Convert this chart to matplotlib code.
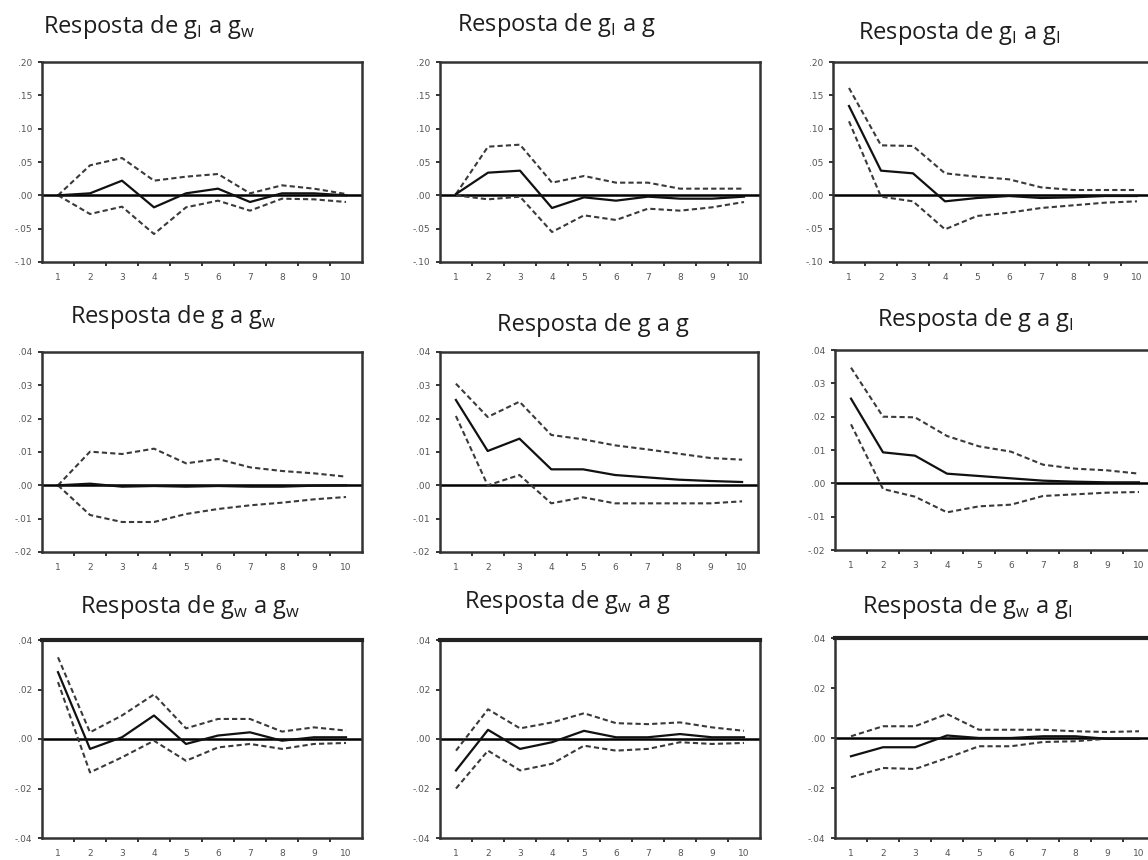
import numpy as np
import matplotlib
matplotlib.use("Agg")
import matplotlib.pyplot as plt

# ---------------- data ----------------
periods = [1, 2, 3, 4, 5, 6, 7, 8, 9, 10]

titles = [
    r"Resposta de g$_\mathregular{I}$ a g$_\mathregular{w}$",
    r"Resposta de g$_\mathregular{I}$ a g",
    r"Resposta de g$_\mathregular{I}$ a g$_\mathregular{I}$",
    r"Resposta de g a g$_\mathregular{w}$",
    r"Resposta de g a g",
    r"Resposta de g a g$_\mathregular{I}$",
    r"Resposta de g$_\mathregular{w}$ a g$_\mathregular{w}$",
    r"Resposta de g$_\mathregular{w}$ a g",
    r"Resposta de g$_\mathregular{w}$ a g$_\mathregular{I}$",
]

# Row 1: response of g_I
gI_gw_resp = [0.000, 0.003, 0.022, -0.018, 0.003, 0.010, -0.010, 0.003, 0.003, 0.000]
gI_gw_up = [0.000, 0.045, 0.056, 0.022, 0.028, 0.032, 0.003, 0.015, 0.010, 0.002]
gI_gw_lo = [0.000, -0.028, -0.017, -0.058, -0.018, -0.008, -0.023, -0.005, -0.006, -0.010]

gI_g_resp = [0.002, 0.034, 0.037, -0.019, -0.003, -0.008, -0.002, -0.005, -0.005, -0.002]
gI_g_up = [0.002, 0.073, 0.076, 0.019, 0.029, 0.019, 0.019, 0.010, 0.010, 0.010]
gI_g_lo = [0.000, -0.006, -0.002, -0.055, -0.030, -0.037, -0.020, -0.023, -0.018, -0.010]

gI_gI_resp = [0.134, 0.037, 0.033, -0.009, -0.004, -0.001, -0.004, -0.003, -0.001, -0.001]
gI_gI_up = [0.161, 0.075, 0.074, 0.033, 0.028, 0.024, 0.012, 0.008, 0.008, 0.008]
gI_gI_lo = [0.111, -0.002, -0.009, -0.051, -0.031, -0.026, -0.019, -0.015, -0.011, -0.009]

# Row 2: response of g
g_gw_resp = [0.0000, 0.0005, -0.0004, -0.0002, -0.0004, -0.0002, -0.0004, -0.0004, -0.0001, 0.0000]
g_gw_up = [0.0000, 0.0101, 0.0094, 0.0110, 0.0066, 0.0079, 0.0054, 0.0043, 0.0036, 0.0026]
g_gw_lo = [0.0000, -0.0089, -0.0110, -0.0110, -0.0086, -0.0071, -0.0060, -0.0052, -0.0042, -0.0035]

g_g_resp = [0.0256, 0.0103, 0.0140, 0.0048, 0.0048, 0.0031, 0.0024, 0.0017, 0.0013, 0.0010]
g_g_up = [0.0305, 0.0205, 0.0251, 0.0151, 0.0138, 0.0120, 0.0108, 0.0095, 0.0082, 0.0077]
g_g_lo = [0.0208, 0.0000, 0.0031, -0.0054, -0.0036, -0.0054, -0.0054, -0.0054, -0.0054, -0.0048]

g_gI_resp = [0.0254, 0.0093, 0.0083, 0.0029, 0.0022, 0.0015, 0.0008, 0.0005, 0.0003, 0.0003]
g_gI_up = [0.0347, 0.0200, 0.0198, 0.0142, 0.0111, 0.0095, 0.0056, 0.0044, 0.0039, 0.0029]
g_gI_lo = [0.0177, -0.0017, -0.0040, -0.0087, -0.0069, -0.0064, -0.0038, -0.0033, -0.0028, -0.0026]

# Row 3: response of g_w
gw_gw_resp = [0.0270, -0.0040, 0.0007, 0.0095, -0.0020, 0.0014, 0.0027, -0.0007, 0.0007, 0.0007]
gw_gw_up = [0.0330, 0.0027, 0.0095, 0.0180, 0.0043, 0.0081, 0.0081, 0.0030, 0.0047, 0.0034]
gw_gw_lo = [0.0230, -0.0135, -0.0074, -0.0007, -0.0088, -0.0034, -0.0020, -0.0040, -0.0020, -0.0016]

gw_g_resp = [-0.0127, 0.0037, -0.0040, -0.0013, 0.0033, 0.0007, 0.0007, 0.0020, 0.0007, 0.0007]
gw_g_up = [-0.0047, 0.0120, 0.0043, 0.0067, 0.0104, 0.0064, 0.0060, 0.0067, 0.0047, 0.0033]
gw_g_lo = [-0.0200, -0.0047, -0.0127, -0.0100, -0.0027, -0.0047, -0.0040, -0.0013, -0.0020, -0.0016]

gw_gI_resp = [-0.0073, -0.0037, -0.0037, 0.0010, 0.0000, 0.0000, 0.0007, 0.0007, -0.0003, -0.0003]
gw_gI_up = [0.0007, 0.0047, 0.0047, 0.0096, 0.0033, 0.0033, 0.0033, 0.0027, 0.0024, 0.0027]
gw_gI_lo = [-0.0157, -0.0120, -0.0124, -0.0080, -0.0033, -0.0033, -0.0016, -0.0013, -0.0003, -0.0003]

row1_yticks = [-0.10, -0.05, 0.00, 0.05, 0.10, 0.15, 0.20]
row1_ylabels = ["-.10", "-.05", ".00", ".05", ".10", ".15", ".20"]
row2_yticks = [-0.02, -0.01, 0.00, 0.01, 0.02, 0.03, 0.04]
row2_ylabels = ["-.02", "-.01", ".00", ".01", ".02", ".03", ".04"]
row3_yticks = [-0.04, -0.02, 0.00, 0.02, 0.04]
row3_ylabels = ["-.04", "-.02", ".00", ".02", ".04"]

responses = [gI_gw_resp, gI_g_resp, gI_gI_resp,
             g_gw_resp, g_g_resp, g_gI_resp,
             gw_gw_resp, gw_g_resp, gw_gI_resp]
uppers = [gI_gw_up, gI_g_up, gI_gI_up,
          g_gw_up, g_g_up, g_gI_up,
          gw_gw_up, gw_g_up, gw_gI_up]
lowers = [gI_gw_lo, gI_g_lo, gI_gI_lo,
          g_gw_lo, g_g_lo, g_gI_lo,
          gw_gw_lo, gw_g_lo, gw_gI_lo]

# ---------------- layout ----------------
W, H = 1148, 860
plt.rcParams['mathtext.fontset'] = 'custom'
plt.rcParams['mathtext.rm'] = 'Open Sans'
fig = plt.figure(figsize=(W / 100, H / 100), dpi=100)
fig.patch.set_facecolor('white')

# axes boxes in pixels: left, top, right, bottom
boxes = [
    (42, 62, 362, 262), (440, 62, 760, 262), (833, 62, 1153, 262),
    (42, 352, 362, 552), (440, 352, 758, 552), (835, 350, 1155, 550),
    (42, 640, 362, 838), (440, 640, 760, 838), (835, 638, 1155, 838),
]
title_pos = [
    (149, 27), (556, 25), (959, 33),
    (173, 317), (593, 325), (975, 320),
    (190, 607), (567, 602), (967, 607),
]

for i in range(9):
    l, t, r, b = boxes[i]
    ax = fig.add_axes([l / W, 1 - b / H, (r - l) / W, (b - t) / H])
    row = i // 3
    if row == 0:
        yt, yl, ylim = row1_yticks, row1_ylabels, (-0.10, 0.20)
    elif row == 1:
        yt, yl, ylim = row2_yticks, row2_ylabels, (-0.02, 0.04)
    else:
        yt, yl, ylim = row3_yticks, row3_ylabels, (-0.04, 0.04)

    ax.axhline(0, color='black', lw=1.8, zorder=2)
    ax.plot(periods, uppers[i], color='#3a3a3a', lw=1.5, ls=(0, (2.5, 1.5)), zorder=3)
    ax.plot(periods, lowers[i], color='#3a3a3a', lw=1.5, ls=(0, (2.5, 1.5)), zorder=3)
    ax.plot(periods, responses[i], color='#111111', lw=1.6, zorder=4)

    ax.set_xlim(0.5, 10.5)
    ax.set_ylim(*ylim)
    ax.set_yticks(yt)
    ax.set_yticklabels(yl)
    ax.set_xticks(periods)
    ax.set_xticklabels([str(p) for p in periods])
    ax.set_xticks(np.arange(1.5, 10.5, 1.0), minor=True)
    ax.tick_params(axis='x', which='major', length=0, pad=8,
                   labelsize=6.5, labelcolor='#555555')
    ax.tick_params(axis='x', which='minor', length=3, width=1.4,
                   color='#333333', direction='out')
    ax.tick_params(axis='y', which='major', length=3, width=1.4,
                   color='#333333', direction='out', pad=4,
                   labelsize=6.5, labelcolor='#555555')
    for s in ax.spines.values():
        s.set_color('#333333')
        s.set_linewidth(1.8)
    if row == 2:
        ax.spines['top'].set_linewidth(3.0)
        ax.spines['top'].set_color('#222222')

    tx, ty = title_pos[i]
    fig.text(tx / W, 1 - ty / H, titles[i], ha='center', va='center',
             fontsize=17, family='Open Sans', color='#1e1e1e')

fig.savefig('out.png', dpi=100, facecolor='white')
